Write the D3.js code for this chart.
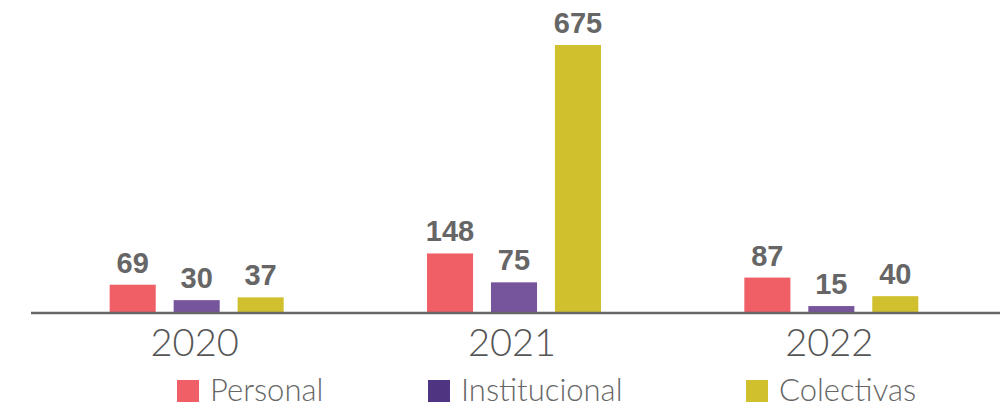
<!DOCTYPE html>
<html>
<head>
<meta charset="utf-8">
<script src="https://cdn.jsdelivr.net/npm/d3@7"></script>
<style>
  body { margin: 0; background: #fff; }
  .value-label { font-family: "Liberation Sans", Arial, sans-serif; font-weight: bold; font-size: 29px; fill: #666; }
  .year-label { font-family: Lato, "Open Sans", sans-serif; font-weight: 300; font-size: 38px; fill: #555; }
  .legend-text { font-family: Lato, "Open Sans", sans-serif; font-weight: 300; font-size: 31px; fill: #666; }
</style>
</head>
<body>
<div id="chart"></div>
<script>

// data
const years = ["2020", "2021", "2022"];
const seriesNames = ["Personal", "Institucional", "Colectivas"];
const personal = [69, 148, 87];
const institucional = [30, 75, 15];
const colectivas = [37, 675, 40];

const barColors = ["#f05f66", "#77559d", "#d0c02e"];
const legendColors = ["#f05f66", "#4f3482", "#d0c02e"];

let width = 1005, height = 408;

let svg = d3.select("#chart").append("svg")
	.attr("width", width)
	.attr("height", height);

let rows = years.map((y, i) => ({
	year: y,
	values: [personal[i], institucional[i], colectivas[i]]
}));

// scales
let x0 = d3.scaleBand()
	.domain(years)
	.range([38, 990]);

let x1 = d3.scaleBand()
	.domain(seriesNames)
	.range([0, 174])
	.paddingInner(0.28);

let y = d3.scaleLinear()
	.domain([0, 675])
	.range([312, 45]);

// bars
let groups = svg.selectAll(".group")
	.data(rows)
	.enter().append("g")
	.attr("class", "group")
	.attr("transform", d => "translate(" + (x0(d.year) + x0.bandwidth() / 2 - 87) + ",0)");

groups.selectAll("rect")
	.data(d => d.values.map((v, i) => ({key: seriesNames[i], value: v, idx: i})))
	.enter().append("rect")
	.attr("x", d => x1(d.key))
	.attr("y", d => y(d.value))
	.attr("width", x1.bandwidth())
	.attr("height", d => y(0) - y(d.value))
	.attr("fill", d => barColors[d.idx]);

groups.selectAll(".value-label")
	.data(d => d.values.map((v, i) => ({key: seriesNames[i], value: v})))
	.enter().append("text")
	.attr("class", "value-label")
	.attr("x", d => x1(d.key) + x1.bandwidth() / 2)
	.attr("y", d => y(d.value) - 12)
	.attr("text-anchor", "middle")
	.text(d => d.value);

// baseline axis
svg.append("line")
	.attr("x1", 31)
	.attr("x2", 1000)
	.attr("y1", y(0) + 1)
	.attr("y2", y(0) + 1)
	.attr("stroke", "#666")
	.attr("stroke-width", 2.5);

// year labels
svg.selectAll(".year-label")
	.data(years)
	.enter().append("text")
	.attr("class", "year-label")
	.attr("x", d => x0(d) + x0.bandwidth() / 2 - 2)
	.attr("y", 356)
	.attr("text-anchor", "middle")
	.text(d => d);

// legend
let legendX = [177, 428, 746];
let legend = svg.selectAll(".legend")
	.data(seriesNames)
	.enter().append("g")
	.attr("class", "legend")
	.attr("transform", (d, i) => "translate(" + legendX[i] + ",380)");

legend.append("rect")
	.attr("width", 22)
	.attr("height", 22)
	.attr("fill", (d, i) => legendColors[i]);

legend.append("text")
	.attr("class", "legend-text")
	.attr("x", 33)
	.attr("y", 21)
	.text(d => d);

</script>
</body>
</html>
